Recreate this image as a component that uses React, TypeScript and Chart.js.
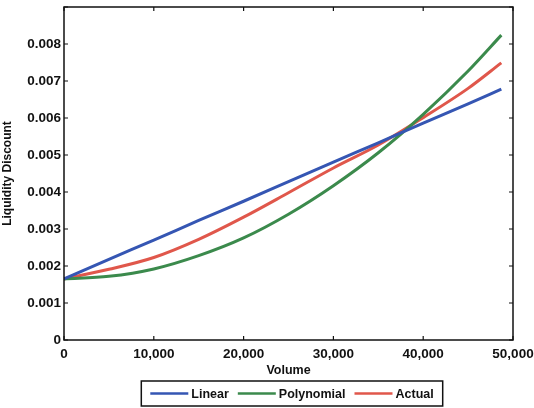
import React, { useEffect, useRef } from "react";
import { Chart, registerables } from "chart.js";
Chart.register(...registerables);

const volume = [0, 5000, 10000, 15000, 20000, 25000, 30000, 35000, 40000, 45000, 48700];
const linearVals = [0.00165, 0.00218, 0.0027, 0.00323, 0.00375, 0.00428, 0.00481, 0.00533, 0.00586, 0.00638, 0.00678];
const polyVals = [0.00165, 0.00172, 0.00192, 0.00228, 0.00276, 0.0034, 0.00417, 0.00506, 0.0061, 0.00727, 0.00824];
const actualVals = [0.00165, 0.00191, 0.00223, 0.00272, 0.00332, 0.00398, 0.00465, 0.00527, 0.00601, 0.0068, 0.00749];
const seriesNames = ["Linear", "Polynomial", "Actual"];
const seriesColors = ["#3556b3", "#3b8a4c", "#e0574b"];
const xTicks = [0, 10000, 20000, 30000, 40000, 50000];

const FONT = "'Liberation Sans', Arial, sans-serif";

const framePlugin = {
  id: "frame",
  afterDraw(chart: any) {
    const { ctx, chartArea: a, scales } = chart;
    ctx.save();
    ctx.strokeStyle = "#111";
    ctx.lineWidth = 1.5;
    ctx.strokeRect(a.left, a.top, a.right - a.left, a.bottom - a.top);
    ctx.lineWidth = 1.2;
    const t = 4;
    xTicks.forEach((v) => {
      const px = scales.x.getPixelForValue(v);
      ctx.beginPath();
      ctx.moveTo(px, a.bottom);
      ctx.lineTo(px, a.bottom - t);
      ctx.moveTo(px, a.top);
      ctx.lineTo(px, a.top + t);
      ctx.stroke();
    });
    for (let i = 0; i <= 9; i++) {
      const py = scales.y.getPixelForValue(i * 0.001);
      ctx.beginPath();
      ctx.moveTo(a.left, py);
      ctx.lineTo(a.left + t, py);
      ctx.moveTo(a.right, py);
      ctx.lineTo(a.right - t, py);
      ctx.stroke();
    }
    // legend
    ctx.font = `bold 12.5px ${FONT}`;
    const lineLen = 38;
    const gapLT = 3;
    const gapItem = 9;
    const widths = seriesNames.map((n) => ctx.measureText(n).width);
    const total = widths.reduce((s, w) => s + lineLen + gapLT + w, 0) + gapItem * (seriesNames.length - 1);
    const padX = 9;
    const boxW = total + padX * 2;
    const cx = 292;
    const boxL = cx - boxW / 2;
    const boxT = 381;
    const boxH = 25;
    ctx.lineWidth = 1.5;
    ctx.strokeStyle = "#111";
    ctx.strokeRect(boxL, boxT, boxW, boxH);
    let x = boxL + padX;
    const midY = boxT + boxH / 2;
    ctx.textBaseline = "middle";
    ctx.textAlign = "left";
    seriesNames.forEach((n, i) => {
      ctx.strokeStyle = seriesColors[i];
      ctx.lineWidth = 2.5;
      ctx.beginPath();
      ctx.moveTo(x, midY);
      ctx.lineTo(x + lineLen, midY);
      ctx.stroke();
      x += lineLen + gapLT;
      ctx.fillStyle = "#111";
      ctx.fillText(n, x, midY + 1);
      x += widths[i] + gapItem;
    });
    ctx.restore();
  },
};

export default function App() {
  const ref = useRef<HTMLCanvasElement>(null);
  useEffect(() => {
    document.body.style.margin = "0";
    const toPts = (vals: number[]) => volume.map((x, i) => ({ x, y: vals[i] }));
    const allVals = [linearVals, polyVals, actualVals];
    const chart = new Chart(ref.current!, {
      type: "line",
      data: {
        datasets: seriesNames.map((n, i) => ({
          label: n,
          data: toPts(allVals[i]),
          borderColor: seriesColors[i],
          borderWidth: 3,
          pointRadius: 0,
          tension: i === 0 ? 0 : 0.4,
          cubicInterpolationMode: "monotone" as const,
          fill: false,
        })),
      },
      options: {
        animation: false,
        responsive: false,
        layout: { padding: { top: 7, right: 21, left: 0, bottom: 30 } },
        plugins: { legend: { display: false }, tooltip: { enabled: false } },
        scales: {
          x: {
            type: "linear",
            min: 0,
            max: 50000,
            afterBuildTicks: (s: any) => {
              s.ticks = xTicks.map((v) => ({ value: v }));
            },
            afterFit: (s: any) => {
              s.height = 38;
              s.paddingLeft = 0;
              s.paddingRight = 0;
            },
            grid: { display: false, drawTicks: false },
            border: { display: false },
            ticks: {
              color: "#111",
              padding: 6,
              maxRotation: 0,
              font: { family: FONT, size: 13.5, weight: "bold" },
              callback: (v: any) => Number(v).toLocaleString("en-US"),
            },
            title: {
              display: true,
              text: "Volume",
              color: "#111",
              padding: { top: 0, bottom: 0 },
              font: { family: FONT, size: 12.5, weight: "bold" },
            },
          },
          y: {
            min: 0,
            max: 0.009,
            afterBuildTicks: (s: any) => {
              s.ticks = Array.from({ length: 10 }, (_, i) => ({ value: i * 0.001 }));
            },
            afterFit: (s: any) => {
              s.width = 64;
              s.paddingTop = 0;
              s.paddingBottom = 0;
            },
            grid: { display: false, drawTicks: false },
            border: { display: false },
            ticks: {
              color: "#111",
              padding: 3,
              font: { family: FONT, size: 13.5, weight: "bold" },
              callback: (v: any) => {
                const r = Math.round(Number(v) * 1000);
                if (r === 9) return "";
                return r === 0 ? "0" : (r / 1000).toFixed(3);
              },
            },
            title: {
              display: true,
              text: "Liquidity Discount",
              color: "#111",
              padding: { top: 0, bottom: 2 },
              font: { family: FONT, size: 12, weight: "bold" },
            },
          },
        },
      },
      plugins: [framePlugin],
    });
    return () => chart.destroy();
  }, []);
  return (
    <div style={{ position: "fixed", left: 0, top: 0, width: 534, height: 408, background: "#fff" }}>
      <canvas ref={ref} width={534} height={408} />
    </div>
  );
}
